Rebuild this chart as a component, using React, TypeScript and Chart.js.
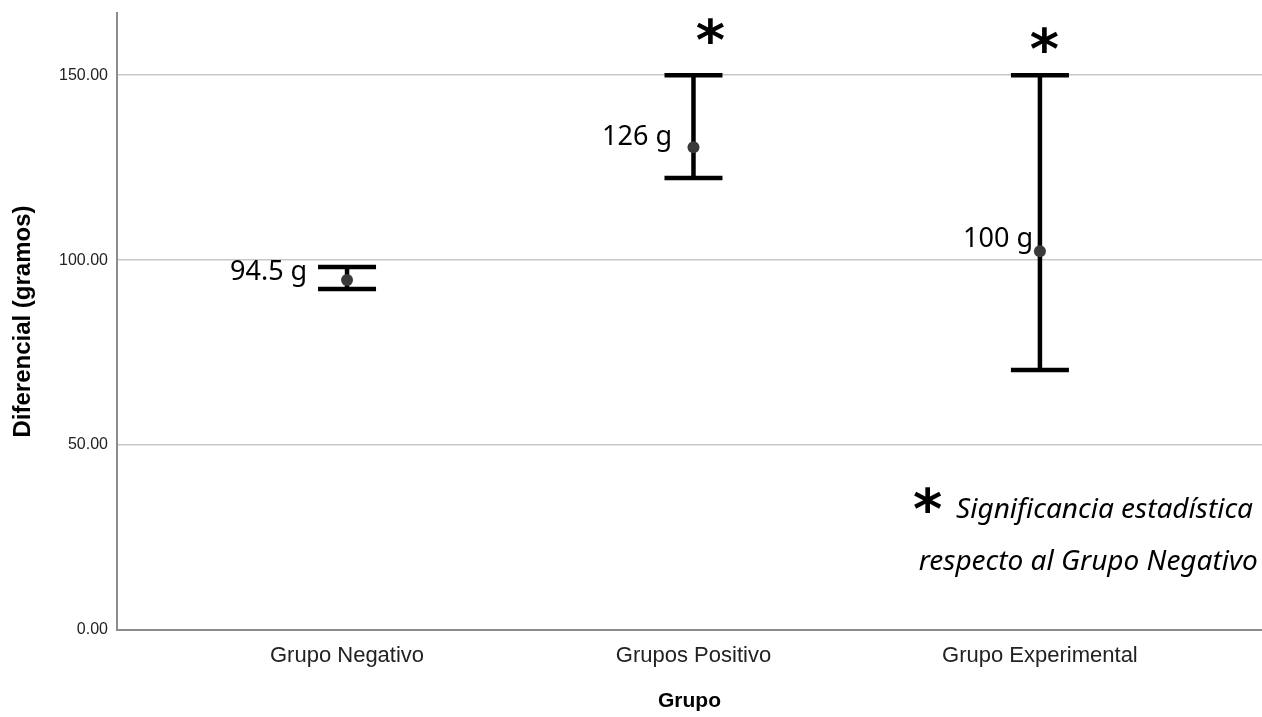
import React, { useEffect, useRef } from "react";
import { Chart, registerables } from "chart.js";

Chart.register(...registerables);

// ---- data ----
const categories = ["Grupo Negativo", "Grupos Positivo", "Grupo Experimental"];
const means = [94.6, 130.5, 102.4];
const lower = [92.2, 122.2, 70.3];
const upper = [98.1, 150.0, 150.0];
const yTickValues = [0, 50, 100, 150];
const valueLabels = ["94.5 g", "126 g", "100 g"];
// label anchor (right edge / baseline) in data units
const valueLabelX = [-0.115, 0.938, 1.98];
const valueLabelY = [94.6, 131.1, 103.5];
// significance asterisks (centre, data units)
const starX = [1.05, 2.014];
const starY = [161.9, 159.6];
const noteStarX = [1.677];
const noteStarY = [35.1];
const noteLines = ["Significancia estadística", "respecto al Grupo Negativo"];
const noteX = [2.615, 2.629];
const noteY = [30.3, 16.2];

const X_MIN = -0.664;
const X_MAX = 2.641;
const Y_MAX = 166.8;

function drawStar(ctx: CanvasRenderingContext2D, cx: number, cy: number, w: number) {
  const fam = "'DejaVu Sans', 'Noto Sans', sans-serif";
  const base = 60;
  ctx.font = `bold ${base}px ${fam}`;
  let m = ctx.measureText("*");
  const bw = m.actualBoundingBoxLeft + m.actualBoundingBoxRight;
  const size = (base * w) / (bw || 1);
  ctx.font = `bold ${size}px ${fam}`;
  ctx.textAlign = "left";
  ctx.textBaseline = "alphabetic";
  m = ctx.measureText("*");
  const left = -m.actualBoundingBoxLeft;
  const right = m.actualBoundingBoxRight;
  const top = -m.actualBoundingBoxAscent;
  const bottom = m.actualBoundingBoxDescent;
  const x = cx - (left + right) / 2;
  const y = cy - (top + bottom) / 2;
  ctx.fillStyle = "#000";
  ctx.fillText("*", x, y);
}

const annotationPlugin = {
  id: "errorBarsAndNotes",
  beforeDatasetsDraw(chart: any) {
    const { ctx, scales } = chart;
    const xs = scales.x;
    const ys = scales.y;
    ctx.save();
    ctx.strokeStyle = "#000";
    ctx.lineWidth = 4.5;
    ctx.lineCap = "butt";
    const capHalf = 29;
    for (let i = 0; i < means.length; i++) {
      const x = xs.getPixelForValue(i);
      const yHi = ys.getPixelForValue(upper[i]);
      const yLo = ys.getPixelForValue(lower[i]);
      ctx.beginPath();
      ctx.moveTo(x, yHi);
      ctx.lineTo(x, yLo);
      ctx.moveTo(x - capHalf, yHi);
      ctx.lineTo(x + capHalf, yHi);
      ctx.moveTo(x - capHalf, yLo);
      ctx.lineTo(x + capHalf, yLo);
      ctx.stroke();
    }
    ctx.restore();
  },
  afterDatasetsDraw(chart: any) {
    const { ctx, scales } = chart;
    const xs = scales.x;
    const ys = scales.y;
    ctx.save();
    // value labels
    ctx.font = "27px 'Noto Sans', 'Open Sans', sans-serif";
    ctx.fillStyle = "#000";
    ctx.textAlign = "right";
    ctx.textBaseline = "alphabetic";
    for (let i = 0; i < valueLabels.length; i++) {
      ctx.fillText(valueLabels[i], xs.getPixelForValue(valueLabelX[i]), ys.getPixelForValue(valueLabelY[i]));
    }
    // asterisks
    for (let i = 0; i < starX.length; i++) {
      drawStar(ctx, xs.getPixelForValue(starX[i]), ys.getPixelForValue(starY[i]), 28);
    }
    for (let i = 0; i < noteStarX.length; i++) {
      drawStar(ctx, xs.getPixelForValue(noteStarX[i]), ys.getPixelForValue(noteStarY[i]), 28);
    }
    // note
    ctx.font = "italic 28px 'Noto Sans', 'Open Sans', sans-serif";
    ctx.fillStyle = "#000";
    ctx.textAlign = "right";
    ctx.textBaseline = "alphabetic";
    for (let i = 0; i < noteLines.length; i++) {
      ctx.fillText(noteLines[i], xs.getPixelForValue(noteX[i]), ys.getPixelForValue(noteY[i]));
    }
    ctx.restore();
  },
};

export default function App() {
  const ref = useRef<HTMLCanvasElement | null>(null);
  useEffect(() => {
    if (!ref.current) return;
    const chart = new Chart(ref.current, {
      type: "scatter",
      data: {
        datasets: [
          {
            label: "Media",
            data: means.map((m, i) => ({ x: i, y: m })),
            pointRadius: 6,
            pointBackgroundColor: "#3a3a3a",
            pointBorderColor: "#3a3a3a",
            pointBorderWidth: 0,
            showLine: false,
          },
        ],
      },
      options: {
        responsive: false,
        animation: false,
        layout: { autoPadding: false, padding: { top: 13, right: 0, left: 0, bottom: 0 } },
        plugins: {
          legend: { display: false },
          tooltip: { enabled: false },
        },
        scales: {
          x: {
            type: "linear",
            min: X_MIN,
            max: X_MAX,
            afterBuildTicks: (scale: any) => {
              scale.ticks = categories.map((_, i) => ({ value: i }));
            },
            afterFit: (scale: any) => {
              scale.height = 87;
              scale.paddingLeft = 0;
              scale.paddingRight = 0;
              scale.paddingTop = 0;
              scale.paddingBottom = 0;
            },
            ticks: {
              callback: (v: any) => categories[Math.round(Number(v))] ?? "",
              font: { family: "'Liberation Sans', Arial, sans-serif", size: 22 },
              color: "#222",
              padding: 13,
              maxRotation: 0,
              autoSkip: false,
            },
            grid: { display: false, drawTicks: false },
            border: { display: true, color: "#8c8c8c", width: 2 },
            title: {
              display: true,
              text: "Grupo",
              font: { family: "'Liberation Sans', Arial, sans-serif", size: 21, weight: "bold" },
              color: "#000",
              padding: { top: 0, bottom: 3 },
            },
          },
          y: {
            type: "linear",
            min: 0,
            max: Y_MAX,
            afterBuildTicks: (scale: any) => {
              scale.ticks = yTickValues.map((v) => ({ value: v }));
            },
            afterFit: (scale: any) => {
              scale.width = 117;
              scale.paddingLeft = 0;
              scale.paddingRight = 0;
              scale.paddingTop = 0;
              scale.paddingBottom = 0;
            },
            ticks: {
              callback: (v: any) => Number(v).toFixed(2),
              font: { family: "'Liberation Sans', Arial, sans-serif", size: 16 },
              color: "#222",
              padding: 9,
            },
            grid: { color: "#c8c8c8", lineWidth: 1.5, drawTicks: false },
            border: { display: true, color: "#8c8c8c", width: 2 },
            title: {
              display: true,
              text: "Diferencial (gramos)",
              font: { family: "'Liberation Sans', Arial, sans-serif", size: 24, weight: "bold" },
              color: "#000",
              padding: { top: 9, bottom: 0 },
            },
          },
        },
      },
      plugins: [annotationPlugin],
    });
    return () => chart.destroy();
  }, []);
  return (
    <div style={{ position: "fixed", left: 0, top: 0, width: 1262, height: 717, background: "#fff", overflow: "hidden" }}>
      <canvas ref={ref} width={1262} height={717} style={{ display: "block" }} />
    </div>
  );
}
